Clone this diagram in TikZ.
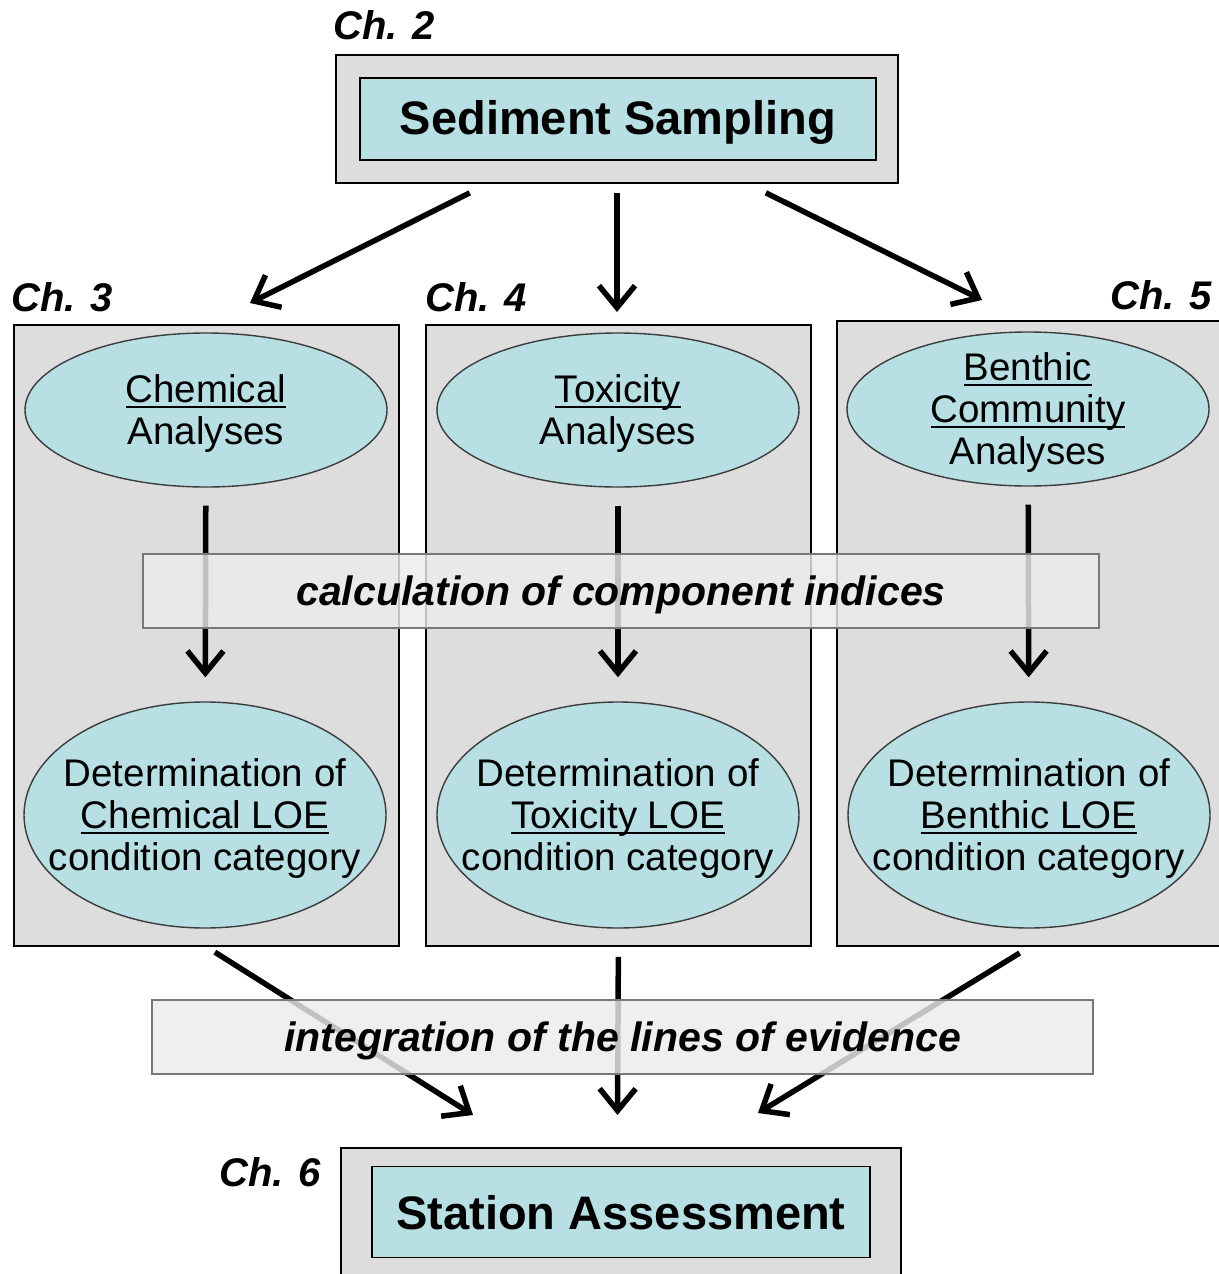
\documentclass[tikz,border=0pt]{standalone}
\usepackage{fontspec}
\setmainfont{Liberation Sans}
\usetikzlibrary{arrows.meta,shapes.geometric}
\definecolor{panel}{RGB}{221,221,221}
\definecolor{aqua}{RGB}{184,223,227}
\definecolor{bandfill}{RGB}{236,236,236}
\definecolor{rim}{RGB}{60,60,60}
\definecolor{bandrim}{RGB}{120,120,120}
% underline at a fixed depth below the baseline
\newcommand\ulx[1]{\setbox0\hbox{#1}\rlap{\rule[-0.14em]{\wd0}{0.06em}}\box0}
\begin{document}
\begin{tikzpicture}[x=1pt,y=-1pt,
  panelbox/.style={draw=black, line width=1.8pt, fill=panel, inner sep=0pt},
  titlebox/.style={draw=black, line width=1.8pt, fill=aqua, inner sep=0pt,
    font=\fontsize{47}{56}\selectfont\bfseries},
  oval/.style={ellipse, draw=rim, line width=1.4pt, fill=aqua, inner sep=0pt,
    minimum width=362pt},
  ovaltext/.style={align=center, inner sep=0pt, yshift=-4pt,
    font=\fontsize{38.5}{42}\selectfont},
  chap/.style={inner sep=0pt, font=\fontsize{40}{48}\selectfont\bfseries\itshape},
  band/.style={draw=bandrim, line width=1.3pt, fill=bandfill, fill opacity=0.82,
    text opacity=1, inner sep=0pt, minimum height=74pt,
    font=\fontsize{41}{48}\selectfont\bfseries\itshape},
  bandtext/.style={inner sep=0pt, yshift=-4pt,
    font=\fontsize{41}{48}\selectfont\bfseries\itshape},
  arr/.style={line width=5.5pt, -{Straight Barb[length=22pt,width=36pt]}}
]
\useasboundingbox (0,0) rectangle (1218,1274);
\fill[white] (0,0) rectangle (1218,1274);

% source box
\node[panelbox, minimum width=562pt, minimum height=128pt] (ss) at (617,119) {};
\node[titlebox, minimum width=516pt, minimum height=82pt] (sst) at (618,119) {};
\node[inner sep=0pt, yshift=-3pt, font=\fontsize{47}{56}\selectfont\bfseries] (sstx) at (sst) {Sediment Sampling};
\node[chap] (ch2) at (384,25) {Ch. 2};

% three analysis columns
\node[panelbox, anchor=north west, minimum width=385pt, minimum height=621pt] (col1) at (13,324) {};
\node[panelbox, anchor=north west, minimum width=385pt, minimum height=621pt] (col2) at (425,324) {};
\node[panelbox, anchor=north west, minimum width=386pt, minimum height=625pt] (col3) at (836,320) {};
\node[chap] (ch3) at (62,297) {Ch. 3};
\node[chap] (ch4) at (476,297) {Ch. 4};
\node[chap] (ch5) at (1161,295) {Ch. 5};

% upper ellipses
\node[oval, minimum height=154pt] (c1) at (206,410) {};
\node[oval, minimum height=154pt] (c2) at (618,410) {};
\node[oval, minimum height=154pt] (c3) at (1028,409) {};
\node[ovaltext] (c1t) at (c1) {\ulx{Chemical}\\Analyses};
\node[ovaltext] (c2t) at (c2) {\ulx{Toxicity}\\Analyses};
\node[ovaltext] (c3t) at (c3) {\ulx{Benthic}\\\ulx{Community}\\Analyses};

% lower ellipses
\node[oval, minimum height=226pt] (d1) at (205,815) {};
\node[oval, minimum height=226pt] (d2) at (618,815) {};
\node[oval, minimum height=226pt] (d3) at (1029,815) {};
\node[ovaltext] (d1t) at (d1) {Determination of\\\ulx{Chemical LOE}\\condition category};
\node[ovaltext] (d2t) at (d2) {Determination of\\\ulx{Toxicity LOE}\\condition category};
\node[ovaltext] (d3t) at (d3) {Determination of\\\ulx{Benthic LOE}\\condition category};

% station assessment box
\node[panelbox, anchor=north west, minimum width=560pt, minimum height=153pt] (sa) at (340,1147) {};
\node[titlebox, minimum width=498pt, minimum height=91pt] (sat) at (621,1212) {};
\node[inner sep=0pt, yshift=-1pt, font=\fontsize{47}{56}\selectfont\bfseries] (satx) at (sat) {Station Assessment};
\node[chap] (ch6) at (270,1172) {Ch. 6};

% arrow end points
\coordinate (k1) at (250,303);
\coordinate (k2) at (617,312);
\coordinate (k3) at (982,300);
\coordinate (m1) at (473,1115);
\coordinate (m2) at (617.5,1115);
\coordinate (m3) at (758,1113);

% connectors
\draw[arr, shorten <=20pt] (ss) -- (k1);
\draw[arr, shorten <=9pt] (ss) -- (k2);
\draw[arr, shorten <=20pt] (ss) -- (k3);
\draw[arr, shorten <=18pt, shorten >=24pt] (c1) -- (d1);
\draw[arr, shorten <=18pt, shorten >=24pt] (c2) -- (d2);
\draw[arr, shorten <=18pt, shorten >=24pt] (c3) -- (d3);
\draw[arr, shorten <=10pt] (col1.south) -- (m1);
\draw[arr, shorten <=10pt] (col2.south) -- (m2);
\draw[arr, shorten <=12pt] (col3.south) -- (m3);

% translucent process bands
\node[band, minimum width=956pt] (calc) at (621,591) {};
\node[bandtext] (calct) at (calc) {calculation of component indices};
\node[band, minimum width=941pt] (integ) at (622.5,1037) {};
\node[bandtext] (integt) at (integ) {integration of the lines of evidence};
\end{tikzpicture}
\end{document}
